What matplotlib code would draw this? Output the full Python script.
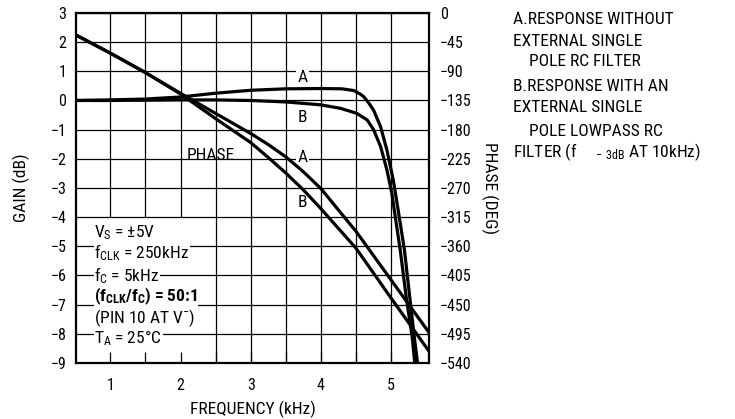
import numpy as np
import matplotlib
matplotlib.use("Agg")
import matplotlib.pyplot as plt
from matplotlib.patches import Rectangle

plt.rcParams['font.family'] = ['Roboto Condensed', 'DejaVu Sans']
plt.rcParams['mathtext.fontset'] = 'custom'
plt.rcParams['mathtext.rm'] = 'Roboto Condensed'
plt.rcParams['mathtext.it'] = 'Roboto Condensed'
plt.rcParams['mathtext.bf'] = 'Roboto Condensed:bold'

# gain curves (dB)
freq_gain_a = [0.51, 1.0, 1.5, 2.0, 2.5, 3.0, 3.5, 4.0, 4.3, 4.47, 4.56, 4.61, 4.68, 4.75,
               4.85, 4.94, 5.03, 5.10, 5.19, 5.27, 5.33, 5.38]
gain_a = [0.0, 0.02, 0.05, 0.12, 0.25, 0.35, 0.40, 0.41, 0.40, 0.34, 0.22, 0.13, -0.08, -0.33,
          -0.9, -1.7, -2.72, -3.75, -5.13, -6.84, -8.1, -9.07]
freq_gain_b = [0.51, 1.0, 1.5, 2.0, 2.5, 3.0, 3.5, 4.0, 4.28, 4.51, 4.66, 4.75, 4.85, 4.94,
               5.01, 5.06, 5.13, 5.22, 5.30, 5.34]
gain_b = [0.0, 0.0, 0.01, 0.02, 0.02, 0.0, -0.05, -0.15, -0.27, -0.44, -0.67, -1.0, -1.58, -2.38,
          -3.18, -4.0, -5.13, -6.84, -8.1, -9.07]

# phase curves (deg)
freq_phase = [0.51, 1.0, 1.5, 2.0, 2.5, 3.0, 3.25, 3.5, 3.75, 4.0, 4.5, 5.0, 5.54]
phase_a = [-34, -62, -92, -124, -155, -186, -203, -222, -245, -271, -337, -412, -493]
phase_b = [-34, -62, -92, -125, -163, -200, -223, -247, -273, -302, -363, -440, -522]

x_major = [1, 2, 3, 4, 5]
x_minor = [1.5, 2.5, 3.5, 4.5]
gain_ticks = list(range(-9, 4))
phase_ticks = list(range(-540, 1, 45))

cond_lines = [r"V$_\mathrm{S}$ = ±5V",
              r"f$_\mathrm{CLK}$ = 250kHz",
              r"f$_\mathrm{C}$ = 5kHz",
              r"$\mathbf{(f_{CLK}/f_{C})}$ = 50:1",
              r"(PIN 10 AT V$^{-}$)",
              r"T$_\mathrm{A}$ = 25°C"]
cond_y = [-4.54, -5.23, -6.0, -6.73, -7.46, -8.14]

note_lines = ["A.RESPONSE WITHOUT", "EXTERNAL SINGLE", "    POLE RC FILTER",
              "B.RESPONSE WITH AN", "EXTERNAL SINGLE", "    POLE LOWPASS RC",
              r"FILTER (f     $_{\mathrm{-\ 3dB}}$ AT 10kHz)"]
note_y = [20, 42, 62, 86, 108, 131, 152]

FS = 12.5

fig = plt.figure(figsize=(7.35, 4.19), dpi=100)
ax = fig.add_axes([0.1034, 0.1337, 0.4803, 0.8353])
ax.set_xlim(0.51, 5.54)
ax.set_ylim(-9, 3)

# grid drawn by hand so the condition box can hide part of it
for xv in x_major + x_minor:
    ax.axvline(xv, color='black', lw=0.9, zorder=0.8)
ax.add_patch(Rectangle((0.51, -9), 2.45 - 0.51, 5, facecolor='white', edgecolor='none', zorder=1))
for yv in gain_ticks:
    ax.axhline(yv, color='black', lw=0.9, zorder=1.2)

ax.plot(freq_gain_a, gain_a, color='black', lw=2.3, zorder=3)
ax.plot(freq_gain_b, gain_b, color='black', lw=2.3, zorder=3)

ax.set_axisbelow(False)
ax.set_xticks(x_major)
ax.set_xticks(x_minor, minor=True)
ax.set_yticks(gain_ticks)
ax.tick_params(axis='x', which='both', direction='in', length=8, width=0.9, labelsize=11.5, pad=10.5)
ax.tick_params(axis='y', length=0, labelsize=11.5, pad=7)
for s in ax.spines.values():
    s.set_linewidth(1.6)
ax.set_xlabel("FREQUENCY (kHz)", fontsize=FS, labelpad=6)
ax.set_ylabel("GAIN (dB)", fontsize=FS, labelpad=15)

ax2 = ax.twinx()
ax2.set_ylim(-540, 0)
ax2.set_yticks(phase_ticks)
ax2.tick_params(axis='y', length=0, labelsize=11.5, pad=8)
for s in ax2.spines.values():
    s.set_visible(False)
ax2.plot(freq_phase, phase_a, color='black', lw=2.3, zorder=3)
ax2.plot(freq_phase, phase_b, color='black', lw=2.3, zorder=3)
ax2.set_ylabel("PHASE (DEG)", fontsize=FS, rotation=-90, labelpad=19)

wb = dict(facecolor='white', edgecolor='none', pad=1.0)
ax.text(3.74, 0.8, "A", fontsize=FS, ha='center', va='center', bbox=wb, zorder=4)
ax.text(3.74, -0.6, "B", fontsize=FS, ha='center', va='center', bbox=wb, zorder=4)
ax.text(3.74, -1.97, "A", fontsize=FS, ha='center', va='center', bbox=wb, zorder=4)
ax.text(3.74, -3.5, "B", fontsize=FS, ha='center', va='center', bbox=wb, zorder=4)
ax.text(2.43, -1.9, "PHASE", fontsize=FS, ha='center', va='center', zorder=4)

for txt, yv in zip(cond_lines, cond_y):
    ax.text(0.77, yv, txt, fontsize=FS, ha='left', va='center',
            fontweight='bold' if 'CLK}/' in txt else 'normal',
            bbox=dict(facecolor='white', edgecolor='none', pad=0.5), zorder=4)

for txt, yp in zip(note_lines, note_y):
    fig.text(513 / 735, 1 - yp / 419, txt, fontsize=FS, ha='left', va='center')

fig.savefig("out.png", dpi=100)
